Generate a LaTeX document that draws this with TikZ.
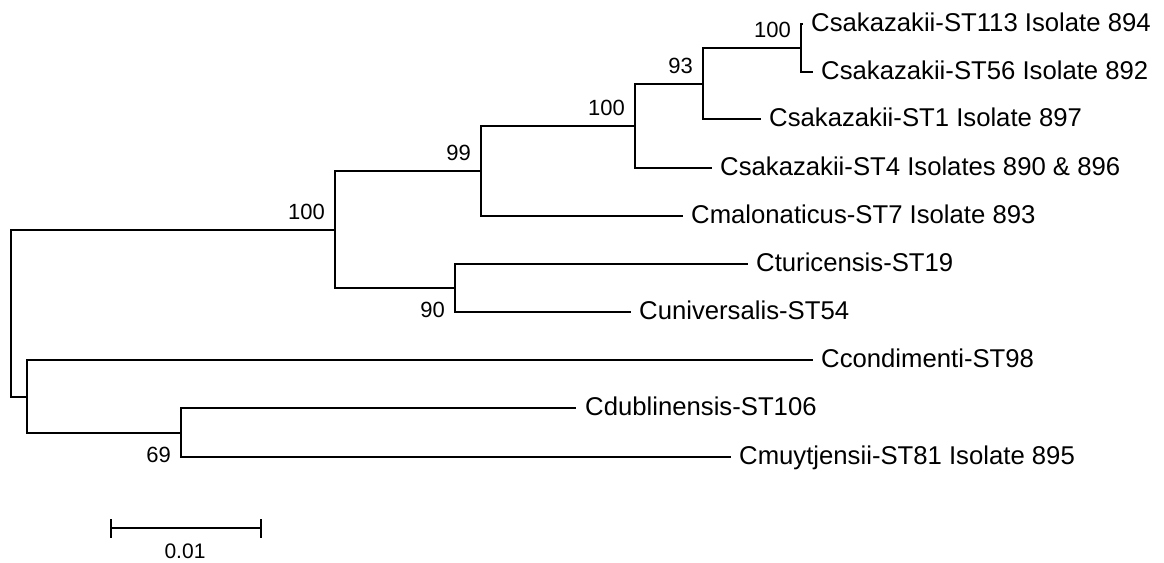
\documentclass[tikz,border=0pt]{standalone}
\usepackage{fontspec}
\setmainfont{Liberation Sans}
\begin{document}
\begin{tikzpicture}[x=1pt,y=-1pt,
  branch/.style={line width=1.8pt, line cap=rect, line join=miter},
  taxon/.style={anchor=base west, inner sep=0pt, xshift=9pt, yshift=-7pt,
    font=\fontsize{25.7}{30}\selectfont},
  bootup/.style={anchor=base east, inner sep=0pt, xshift=-10pt, yshift=11pt,
    font=\fontsize{22}{26}\selectfont},
  bootdown/.style={anchor=base east, inner sep=0pt, xshift=-10pt, yshift=-29pt,
    font=\fontsize{22}{26}\selectfont}]
\useasboundingbox (0,0) rectangle (1164,562);

% internal nodes of the tree (x = distance, y = mid of the children)
\coordinate (R) at (11,313.5);
\coordinate (A) at (335,230);
\coordinate (B) at (481,171);
\coordinate (C) at (635,126);
\coordinate (D) at (703,84);
\coordinate (E) at (801,48);
\coordinate (F) at (455,288);
\coordinate (G) at (27,397);
\coordinate (H) at (181,433);

% tips
\coordinate (l1) at (802,24);
\coordinate (l2) at (812,72);
\coordinate (l3) at (760,119);
\coordinate (l4) at (711,168);
\coordinate (l5) at (682,216);
\coordinate (l6) at (747,264);
\coordinate (l7) at (630,312);
\coordinate (l8) at (812,360);
\coordinate (l9) at (575,408);
\coordinate (l10) at (730,457);

% branches
\draw[branch] (R) |- (A);
\draw[branch] (R) |- (G);
\draw[branch] (A) |- (B);
\draw[branch] (A) |- (F);
\draw[branch] (B) |- (C);
\draw[branch] (B) |- (l5);
\draw[branch] (C) |- (D);
\draw[branch] (C) |- (l4);
\draw[branch] (D) |- (E);
\draw[branch] (D) |- (l3);
\draw[branch] (E) |- (l1);
\draw[branch] (E) |- (l2);
\draw[branch] (F) |- (l6);
\draw[branch] (F) |- (l7);
\draw[branch] (G) |- (l8);
\draw[branch] (G) |- (H);
\draw[branch] (H) |- (l9);
\draw[branch] (H) |- (l10);

% taxon names
\node[taxon] (t1) at (l1) {Csakazakii-ST113 Isolate 894};
\node[taxon] (t2) at (l2) {Csakazakii-ST56 Isolate 892};
\node[taxon] (t3) at (l3) {Csakazakii-ST1 Isolate 897};
\node[taxon] (t4) at (l4) {Csakazakii-ST4 Isolates 890 \& 896};
\node[taxon] (t5) at (l5) {Cmalonaticus-ST7 Isolate 893};
\node[taxon] (t6) at (l6) {Cturicensis-ST19};
\node[taxon] (t7) at (l7) {Cuniversalis-ST54};
\node[taxon] (t8) at (l8) {Ccondimenti-ST98};
\node[taxon,xshift=1pt] (t9) at (l9) {Cdublinensis-ST106};
\node[taxon] (t10) at (l10) {Cmuytjensii-ST81 Isolate 895};

% bootstrap values
\node[bootup] (bA) at (A) {100};
\node[bootup] (bB) at (B) {99};
\node[bootup] (bC) at (C) {100};
\node[bootup] (bD) at (D) {93};
\node[bootup] (bE) at (E) {100};
\node[bootdown] (bF) at (F) {90};
\node[bootdown] (bH) at (H) {69};

% scale bar
\coordinate (sL) at (111,528);
\coordinate (sR) at (261,528);
\draw[branch] (sL) -- (sR);
\draw[branch] ([yshift=8pt]sL) -- ([yshift=-9pt]sL);
\draw[branch] ([yshift=8pt]sR) -- ([yshift=-9pt]sR);
\node[anchor=base, inner sep=0pt, font=\fontsize{21}{25}\selectfont] (scale) at (185,558) {0.01};
\end{tikzpicture}
\end{document}
